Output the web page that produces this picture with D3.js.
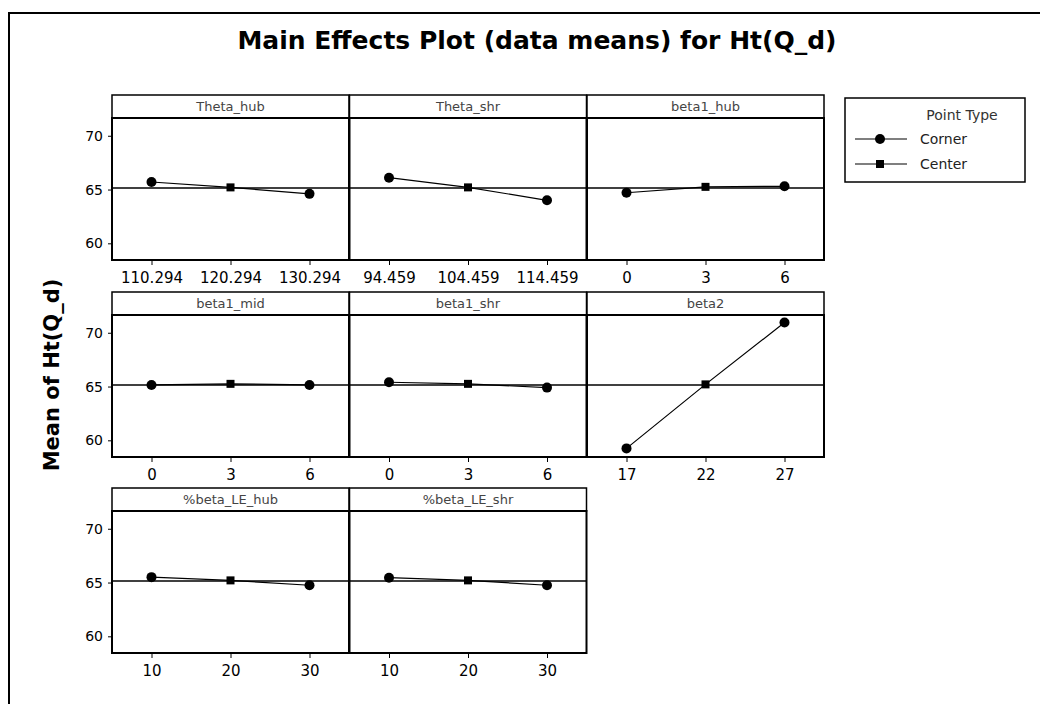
<!DOCTYPE html>
<html>
<head>
<meta charset="utf-8">
<script src="https://cdn.jsdelivr.net/npm/d3@7"></script>
<style>
  body { margin: 0; background: #fff; }
  text { font-family: "DejaVu Sans", Verdana, sans-serif; }
</style>
</head>
<body>
<div id="GraphHolder"></div>
<script>
// data
var factors = ["Theta_hub", "Theta_shr", "beta1_hub", "beta1_mid", "beta1_shr", "beta2", "%beta_LE_hub", "%beta_LE_shr"];
var levels = [
    ["110.294", "120.294", "130.294"],
    ["94.459", "104.459", "114.459"],
    ["0", "3", "6"],
    ["0", "3", "6"],
    ["0", "3", "6"],
    ["17", "22", "27"],
    ["10", "20", "30"],
    ["10", "20", "30"]
];
var cornerLow  = [65.7, 66.1, 64.7, 65.15, 65.4, 59.25, 65.5, 65.45];
var centerMean = [65.2, 65.2, 65.25, 65.25, 65.25, 65.2, 65.2, 65.2];
var cornerHigh = [64.6, 64.0, 65.3, 65.15, 64.9, 70.95, 64.75, 64.75];
var grandMean = 65.15;
var yTicks = [60, 65, 70];
var legendItems = ["Corner", "Center"];

// layout
var W = 1040, H = 704;
var colX = [112, 349.5, 587], colW = 237;
var rowY = [95, 292, 488], stripH = 23, plotH = 142;

var svg = d3.select("#GraphHolder").append("svg")
    .attr("width", W)
    .attr("height", H);

svg.append("rect")
    .attr("x", 9).attr("y", 13)
    .attr("width", W + 20).attr("height", H + 20)
    .attr("fill", "#fff")
    .attr("stroke", "#000")
    .attr("stroke-width", 2);

svg.append("text")
    .attr("x", 537).attr("y", 49)
    .attr("text-anchor", "middle")
    .style("font-size", "25px")
    .style("font-weight", "bold")
    .text("Main Effects Plot (data means) for Ht(Q_d)");

svg.append("text")
    .attr("transform", "translate(59,375) rotate(-90)")
    .attr("text-anchor", "middle")
    .style("font-size", "21px")
    .style("font-weight", "bold")
    .text("Mean of Ht(Q_d)");

var y = d3.scaleLinear()
    .domain([58.45, 71.65])
    .range([plotH, 0]);

factors.forEach(function(name, i) {
    var col = i % 3, row = Math.floor(i / 3);
    var g = svg.append("g")
        .attr("transform", "translate(" + colX[col] + "," + (rowY[row] + stripH) + ")");

    var x = d3.scalePoint()
        .domain(levels[i])
        .range([0, colW])
        .padding(0.5);

    // strip
    g.append("rect")
        .attr("x", 0).attr("y", -stripH)
        .attr("width", colW).attr("height", stripH)
        .attr("fill", "#fff")
        .attr("stroke", "#000").attr("stroke-width", 1.5);
    g.append("text")
        .attr("x", colW / 2).attr("y", -7)
        .attr("text-anchor", "middle")
        .attr("fill", "#444")
        .style("font-size", "13px")
        .text(name);

    // reference line at grand mean
    g.append("line")
        .attr("x1", 0).attr("x2", colW)
        .attr("y1", y(grandMean)).attr("y2", y(grandMean))
        .attr("stroke", "#000").attr("stroke-width", 1.5);

    var pts = [
        {lv: levels[i][0], v: cornerLow[i], type: "Corner"},
        {lv: levels[i][1], v: centerMean[i], type: "Center"},
        {lv: levels[i][2], v: cornerHigh[i], type: "Corner"}
    ];

    g.append("path")
        .datum(pts)
        .attr("fill", "none")
        .attr("stroke", "#000")
        .attr("stroke-width", 1.2)
        .attr("d", d3.line()
            .x(function(d) { return x(d.lv); })
            .y(function(d) { return y(d.v); }));

    g.selectAll(".corner")
        .data(pts.filter(function(d) { return d.type === "Corner"; }))
        .enter().append("circle")
        .attr("cx", function(d) { return x(d.lv); })
        .attr("cy", function(d) { return y(d.v); })
        .attr("r", 5)
        .attr("fill", "#000");

    g.selectAll(".center")
        .data(pts.filter(function(d) { return d.type === "Center"; }))
        .enter().append("rect")
        .attr("x", function(d) { return x(d.lv) - 4; })
        .attr("y", function(d) { return y(d.v) - 4; })
        .attr("width", 8).attr("height", 8)
        .attr("fill", "#000");

    // plot frame
    g.append("rect")
        .attr("x", 0).attr("y", 0)
        .attr("width", colW).attr("height", plotH)
        .attr("fill", "none")
        .attr("stroke", "#000").attr("stroke-width", 2);

    // x axis
    var xAxis = g.append("g")
        .attr("transform", "translate(0," + plotH + ")")
        .call(d3.axisBottom(x).tickSize(5).tickPadding(7));
    xAxis.select(".domain").remove();
    xAxis.selectAll("text").style("font-size", "15px").attr("fill", "#000");

    // y axis only on first column
    if (col === 0) {
        var yAxis = g.append("g")
            .call(d3.axisLeft(y).tickValues(yTicks).tickSize(4).tickPadding(5));
        yAxis.select(".domain").remove();
        yAxis.selectAll("text").style("font-size", "14px").attr("fill", "#000");
    }
});

// legend
var lg = svg.append("g").attr("transform", "translate(845,98)");
lg.append("rect")
    .attr("width", 180).attr("height", 84)
    .attr("fill", "#fff")
    .attr("stroke", "#000").attr("stroke-width", 1.5);
lg.append("text")
    .attr("x", 117).attr("y", 22)
    .attr("text-anchor", "middle")
    .attr("fill", "#333")
    .style("font-size", "14px")
    .text("Point Type");

legendItems.forEach(function(label, j) {
    var yy = 41 + j * 25;
    lg.append("line")
        .attr("x1", 10).attr("x2", 62)
        .attr("y1", yy).attr("y2", yy)
        .attr("stroke", "#000").attr("stroke-width", 1.2);
    if (label === "Corner") {
        lg.append("circle").attr("cx", 35).attr("cy", yy).attr("r", 5).attr("fill", "#000");
    } else {
        lg.append("rect").attr("x", 31).attr("y", yy - 4).attr("width", 8).attr("height", 8).attr("fill", "#000");
    }
    lg.append("text")
        .attr("x", 75).attr("y", yy + 5)
        .attr("fill", "#222")
        .style("font-size", "14px")
        .text(label);
});
</script>
</body>
</html>
